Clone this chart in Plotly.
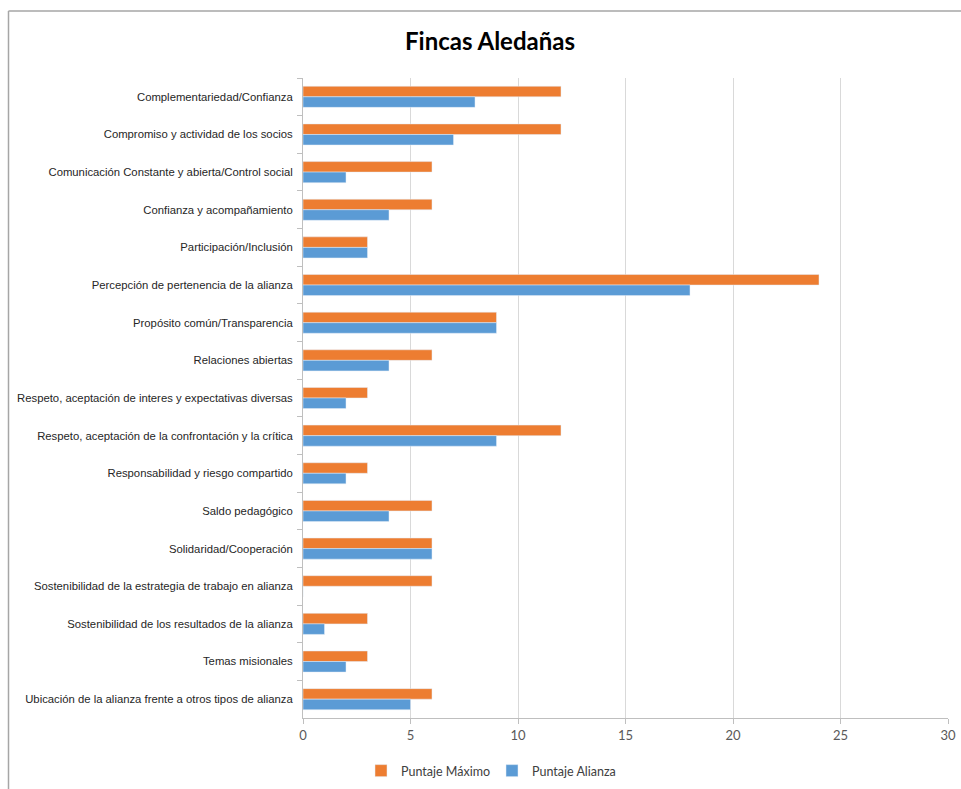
import plotly.graph_objects as go

categories = [
    "Complementariedad/Confianza",
    "Compromiso y actividad de los socios",
    "Comunicación Constante y abierta/Control social",
    "Confianza y acompañamiento",
    "Participación/Inclusión",
    "Percepción de pertenencia de la alianza",
    "Propósito común/Transparencia",
    "Relaciones abiertas",
    "Respeto, aceptación de interes y expectativas diversas",
    "Respeto, aceptación de la confrontación y la crítica",
    "Responsabilidad y riesgo compartido",
    "Saldo pedagógico",
    "Solidaridad/Cooperación",
    "Sostenibilidad de la estrategia de trabajo en alianza",
    "Sostenibilidad de los resultados de la alianza",
    "Temas misionales",
    "Ubicación de la alianza frente a otros tipos de alianza",
]
puntaje_maximo = [12, 12, 6, 6, 3, 24, 9, 6, 3, 12, 3, 6, 6, 6, 3, 3, 6]
puntaje_alianza = [8, 7, 2, 4, 3, 18, 9, 4, 2, 9, 2, 4, 6, 0, 1, 2, 5]

W, H = 961, 789
L, R, T, B = 303, 13, 78, 71
pw, ph = W - L - R, H - T - B

fig = go.Figure()
fig.add_trace(go.Bar(
    y=categories, x=puntaje_maximo, orientation="h",
    name="Puntaje Máximo", marker_color="#ED7D31",
))
fig.add_trace(go.Bar(
    y=categories, x=puntaje_alianza, orientation="h",
    name="Puntaje Alianza", marker_color="#5B9BD5",
))

# frame line (only top and left edges are visible in the source)
fx = (8.5 - L) / pw
fy = (H - B - 11) / ph
frame = dict(color="#a6a6a6", width=1.5)
fig.add_shape(type="line", xref="paper", yref="paper",
              x0=fx, y0=fy, x1=1.2, y1=fy, line=frame)
fig.add_shape(type="line", xref="paper", yref="paper",
              x0=fx, y0=fy, x1=fx, y1=-0.3, line=frame)

fig.update_layout(
    width=W, height=H,
    margin=dict(l=L, r=R, t=T, b=B, autoexpand=False),
    paper_bgcolor="white", plot_bgcolor="white",
    barmode="group", bargap=0.44, bargroupgap=0,
    title=dict(
        text="<b>Fincas Aledañas</b>", x=490 / W, xref="container",
        y=1 - 42 / H, yref="container", xanchor="center", yanchor="middle",
        font=dict(family="Lato, Open Sans, sans-serif", size=24, color="#000000"),
    ),
    legend=dict(
        orientation="h", xref="container", yref="container",
        x=492 / W, y=1 - 771 / H, xanchor="center", yanchor="middle",
        font=dict(family="Lato, Open Sans, sans-serif", size=12.5, color="#404040"),
        itemwidth=30, traceorder="normal", entrywidth=86,
    ),
    font=dict(family="Liberation Sans, Arial", size=11.3, color="#404040"),
)
fig.update_xaxes(
    range=[0, 30], dtick=5, showgrid=True, gridcolor="#d9d9d9", gridwidth=1,
    zeroline=False, showline=True, linecolor="#bfbfbf", linewidth=1,
    ticks="outside", ticklen=5, tickcolor="#bfbfbf", automargin=False,
    ticklabeloverflow="allow",
    tickfont=dict(family="Lato, Open Sans, sans-serif", size=13, color="#595959"),
)
fig.update_yaxes(
    autorange="reversed", showline=True, linecolor="#bfbfbf", linewidth=1,
    ticks="outside", ticklen=5, tickcolor="#bfbfbf", tickson="boundaries",
    showgrid=False, automargin=False, ticklabelstandoff=7,
    tickfont=dict(family="Liberation Sans, Arial", size=11.3, color="#262626"),
)

# drop the default page margin so the figure fills the window exactly
fig.write_html(
    "out.html",
    config={"displayModeBar": False},
    post_script="document.body.style.margin='0';",
)
